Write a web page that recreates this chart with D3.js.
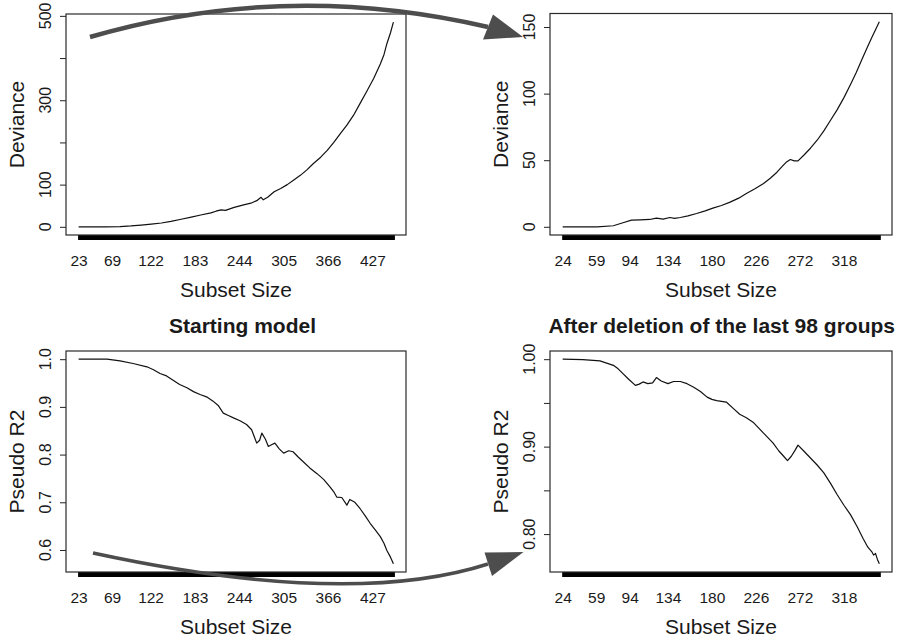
<!DOCTYPE html>
<html>
<head>
<meta charset="utf-8">
<script src="https://cdn.jsdelivr.net/npm/d3@7"></script>
<style>
  html, body { margin: 0; padding: 0; background: #fff; }
  svg { display: block; }
  text { font-family: "Liberation Sans", Arial, Helvetica, sans-serif; fill: #1a1a1a; }
</style>
</head>
<body>
<svg id="chart" width="907" height="642"></svg>
<script>
// ---------------- DATA ----------------
// Starting model: deviance vs subset size
const dev1Size = [23, 40, 60, 80, 95, 109, 123, 137, 150, 164, 178, 191, 205, 212, 219, 225, 237, 250, 260, 268, 274, 277, 283, 292, 301, 310, 319, 328, 337, 346, 356, 365, 374, 383, 392, 401, 410, 420, 429, 438, 443, 447, 452, 456];
const dev1 = [0, 0, 0, 0.5, 2, 4, 6.5, 9, 13, 18, 23, 28, 33, 37, 40, 39, 46, 52, 56, 62, 70, 64, 70, 83, 91, 100, 111, 122, 135, 150, 165, 181, 200, 221, 241, 264, 292, 323, 352, 386, 408, 434, 460, 485];

// After deletion: deviance vs subset size
const dev2Size = [24, 40, 60, 77, 87, 96, 105, 115, 122, 129, 136, 141, 147, 155, 164, 173, 181, 190, 199, 208, 216, 225, 234, 241, 248, 253, 258, 262, 266, 270, 276, 283, 290, 297, 304, 311, 318, 325, 331, 337, 342, 347, 351, 355];
const dev2 = [0, 0, 0, 0.8, 3, 5, 5.2, 5.5, 6.5, 5.8, 7, 6.3, 7, 8.2, 10, 12, 14, 16, 18.5, 21.5, 25, 28.5, 32.5, 36.5, 41, 45, 48.7, 50.5, 49.5, 49.5, 53.7, 59, 65, 72, 80, 88, 97, 107, 116, 126, 134, 142, 148, 154];

// Starting model: pseudo R2
const r2aSize = [23, 45, 62, 80, 98, 117, 126, 135, 144, 153, 162, 172, 181, 190, 199, 208, 215, 222, 229, 236, 245, 254, 261, 268, 272, 275, 280, 284, 289, 293, 299, 305, 312, 318, 325, 332, 341, 351, 360, 369, 374, 378, 385, 392, 396, 403, 410, 417, 424, 431, 438, 443, 447, 452, 456];
const r2a = [1.0, 1.0, 1.0, 0.9965, 0.991, 0.984, 0.978, 0.970, 0.965, 0.956, 0.947, 0.940, 0.932, 0.926, 0.921, 0.912, 0.903, 0.887, 0.882, 0.877, 0.871, 0.863, 0.852, 0.824, 0.830, 0.845, 0.832, 0.817, 0.821, 0.824, 0.812, 0.803, 0.808, 0.806, 0.795, 0.785, 0.772, 0.760, 0.748, 0.732, 0.722, 0.711, 0.710, 0.694, 0.706, 0.700, 0.687, 0.672, 0.656, 0.642, 0.628, 0.614, 0.599, 0.585, 0.571];

// After deletion: pseudo R2
const r2bSize = [24, 45, 63, 77, 82, 87, 93, 100, 104, 108, 113, 118, 122, 127, 134, 140, 147, 154, 161, 168, 175, 180, 185, 195, 202, 209, 216, 223, 230, 237, 244, 250, 255, 259, 263, 267, 270, 276, 283, 290, 297, 304, 311, 318, 325, 332, 338, 343, 347, 349, 351, 353, 355];
const r2b = [1.0, 0.9996, 0.998, 0.993, 0.989, 0.9835, 0.977, 0.970, 0.9715, 0.974, 0.972, 0.973, 0.979, 0.975, 0.972, 0.9745, 0.9745, 0.972, 0.968, 0.963, 0.9566, 0.954, 0.9527, 0.951, 0.944, 0.937, 0.933, 0.928, 0.920, 0.912, 0.904, 0.895, 0.889, 0.884, 0.889, 0.896, 0.9017, 0.895, 0.887, 0.879, 0.870, 0.858, 0.845, 0.833, 0.822, 0.808, 0.795, 0.785, 0.780, 0.776, 0.778, 0.771, 0.766];

// Tick labels
const xLabelsA = [23, 69, 122, 183, 244, 305, 366, 427];
const xLabelsB = [24, 59, 94, 134, 180, 226, 272, 318];
const yTicksDev1 = [0, 100, 200, 300, 400, 500];
const yLabelsDev1 = ["0", "100", "", "300", "", "500"];
const yTicksDev2 = [0, 50, 100, 150];
const yLabelsDev2 = ["0", "50", "100", "150"];
const yTicksR2a = [0.6, 0.7, 0.8, 0.9, 1.0];
const yLabelsR2a = ["0.6", "0.7", "0.8", "0.9", "1.0"];
const yTicksR2b = [0.80, 0.85, 0.90, 0.95, 1.00];
const yLabelsR2b = ["0.80", "", "0.90", "", "1.00"];

const titles = ["Starting model", "After deletion of the last 98 groups"];
const xTitle = "Subset Size";
const yTitles = ["Deviance", "Pseudo R2"];

// ---------------- LAYOUT ----------------
const svg = d3.select("#chart");
svg.append("rect").attr("width", 907).attr("height", 642).attr("fill", "#fff");

const panels = [
  { sizes: dev1Size, vals: dev1, yTicks: yTicksDev1, yLabels: yLabelsDev1, xLabels: xLabelsA, yTitle: yTitles[0], box: { l: 66, t: 14, w: 340, h: 221 } },
  { sizes: dev2Size, vals: dev2, yTicks: yTicksDev2, yLabels: yLabelsDev2, xLabels: xLabelsB, yTitle: yTitles[0], box: { l: 550, t: 13.5, w: 342, h: 221.5 } },
  { sizes: r2aSize, vals: r2a, yTicks: yTicksR2a, yLabels: yLabelsR2a, xLabels: xLabelsA, yTitle: yTitles[1], box: { l: 66, t: 351, w: 340, h: 221 } },
  { sizes: r2bSize, vals: r2b, yTicks: yTicksR2b, yLabels: yLabelsR2b, xLabels: xLabelsB, yTitle: yTitles[1], box: { l: 550, t: 351, w: 342, h: 221 } }
];

function padded(ext) {
  const p = (ext[1] - ext[0]) * 0.04;
  return [ext[0] - p, ext[1] + p];
}

panels.forEach(p => {
  const b = p.box;
  const x = d3.scaleLinear().domain(padded(d3.extent(p.sizes))).range([b.l, b.l + b.w]);
  const y = d3.scaleLinear().domain(padded(d3.extent(p.vals))).range([b.t + b.h, b.t]);
  const g = svg.append("g");

  // dense rug of ticks (one per subset size) -> thick black bar
  const first = d3.min(p.sizes), last = d3.max(p.sizes);
  const rug = g.append("g").attr("transform", `translate(0,${b.t + b.h})`)
    .call(d3.axisBottom(x).tickValues(d3.range(first, last + 1)).tickSize(5).tickFormat(""));
  rug.select(".domain").remove();
  rug.selectAll(".tick line").attr("stroke", "#000").attr("stroke-width", 2);

  // x tick labels
  const xl = g.append("g").attr("transform", `translate(0,${b.t + b.h})`)
    .call(d3.axisBottom(x).tickValues(p.xLabels).tickSize(0).tickPadding(20).tickFormat(d3.format("d")));
  xl.select(".domain").remove();
  xl.selectAll("text").attr("font-size", 15.5).attr("fill", "#1a1a1a")
    .attr("font-family", "'Liberation Sans', Arial, sans-serif");

  // y ticks
  const ya = g.append("g").attr("transform", `translate(${b.l},0)`)
    .call(d3.axisLeft(y).tickValues(p.yTicks).tickSize(6).tickFormat(""));
  ya.select(".domain").remove();
  ya.selectAll(".tick line").attr("stroke", "#222").attr("stroke-width", 1);

  // y tick labels (rotated, parallel to axis)
  g.selectAll(".ylab").data(p.yTicks).enter().append("text")
    .attr("transform", (d) => `translate(${b.l - 15},${y(d)}) rotate(-90)`)
    .attr("text-anchor", "middle").attr("font-size", 16)
    .text((d, i) => p.yLabels[i]);

  // data line
  const pts = p.sizes.map((s, i) => [s, p.vals[i]]);
  g.append("path").datum(pts)
    .attr("fill", "none").attr("stroke", "#111").attr("stroke-width", 1.2)
    .attr("stroke-linejoin", "round")
    .attr("d", d3.line().x(d => x(d[0])).y(d => y(d[1])));

  // box
  g.append("rect").attr("x", b.l).attr("y", b.t).attr("width", b.w).attr("height", b.h)
    .attr("fill", "none").attr("stroke", "#2a2a2a").attr("stroke-width", 1.2);

  // axis titles
  g.append("text").attr("x", b.l + b.w / 2).attr("y", b.t + b.h + 61.5)
    .attr("text-anchor", "middle").attr("font-size", 21).attr("fill", "#333").text(xTitle);
  g.append("text").attr("transform", `translate(${b.l - 42},${b.t + b.h / 2}) rotate(-90)`)
    .attr("text-anchor", "middle").attr("font-size", 21).attr("fill", "#333").text(p.yTitle);
});

// main titles
const titlePos = [[242.5, 332.7], [721.7, 332.7]];
titles.forEach((t, i) => {
  svg.append("text").attr("x", titlePos[i][0]).attr("y", titlePos[i][1])
    .attr("text-anchor", "middle").attr("font-size", 21).attr("font-weight", "bold")
    .attr("fill", "#111").text(t);
});

// annotation arrows
const arrowColor = "#4d4d4d";
const arrows = [
  { d: "M90,37 Q285,-20 488,27", w: 4.5, head: [[483, 39.5], [493, 14.5], [523, 37]] },
  { d: "M93,553 Q349.5,608.5 488,564", w: 3.6, head: [[484.5, 552.5], [492, 576], [523.5, 552]] }
];
arrows.forEach(a => {
  svg.append("path").attr("d", a.d).attr("fill", "none")
    .attr("stroke", arrowColor).attr("stroke-width", a.w).attr("stroke-linecap", "butt");
  svg.append("polygon").attr("points", a.head.map(p => p.join(",")).join(" "))
    .attr("fill", arrowColor);
});
</script>
</body>
</html>
